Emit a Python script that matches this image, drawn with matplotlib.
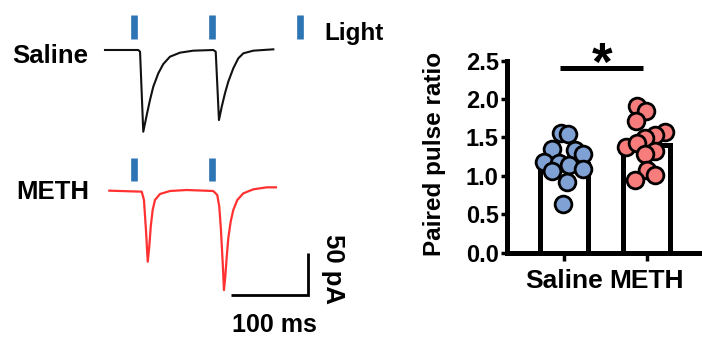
import matplotlib
matplotlib.use("Agg")
import matplotlib.pyplot as plt

plt.rcParams['font.family'] = ['Liberation Sans', 'DejaVu Sans']
plt.rcParams['font.weight'] = 'bold'

# ---------------- data ----------------
# example traces (time in ms, current in pA)
saline_t = [0, 43.2, 45.5, 49.7, 54.2, 58.4, 62.7, 69.2, 75.7, 84.4, 97.4, 114.7,
            140.6, 143.8, 148.0, 151.6, 155.8, 160.1, 166.6, 173.1, 179.6, 192.6, 218.6]
saline_i = [0, 0, -2, -98, -78, -60, -44, -28, -16.8, -8, -3.2, -0.8,
            0, -2, -84, -68, -52, -38, -22, -10, -4, -0.8, 0.8]

meth_t = [5.6, 47.7, 50.6, 53.2, 55.5, 57.5, 59.4, 61.9, 64.9, 71.4, 84.4, 106.1,
          140.6, 145.8, 148.4, 150.6, 152.9, 154.5, 156.2, 158.1, 160.1, 163.2,
          166.6, 171.8, 179.6, 192.6, 210.0, 222.0]
meth_i = [-0.8, -2, -12, -48, -86, -68, -44, -24, -12, -4.8, -1.2, 0,
          -1.2, -6, -20, -48, -88, -120, -104, -80, -58, -38,
          -24, -12, -4, 0.8, 3.2, 3.2]

light_times_saline = [38, 139.4]
light_legend_time = [253.6]
light_times_meth = [38, 139.4]

scale_ms = 100
scale_pa = 50

# paired pulse ratio
groups = ['Saline', 'METH']
bar_means = [1.15, 1.40]
saline_ppr = [1.555, 1.542, 1.346, 1.337, 1.281, 1.185, 1.164, 1.142, 1.064, 1.090, 0.917, 0.630]
saline_jit = [-0.04, 0.052, -0.149, 0.133, 0.234, -0.242, -0.057, 0.064, -0.149, 0.234, 0.04, -0.008]
meth_ppr = [1.914, 1.845, 1.715, 1.568, 1.533, 1.497, 1.380, 1.424, 1.324, 1.281, 1.077, 1.012, 0.947]
meth_jit = [-0.112, -0.006, -0.127, 0.224, 0.103, -0.018, -0.248, -0.119, 0.103, -0.018, 0.002, 0.103, -0.139]
yticks = [0.0, 0.5, 1.0, 1.5, 2.0, 2.5]

light_color = '#2e75b6'
blue = '#7fa1d3'
red = '#f77c7c'

W, H = 702, 338
fig = plt.figure(figsize=(W / 100, H / 100), dpi=100)

# ---------------- left: traces ----------------
px_ms = 0.77
px_pa = 0.834
x0 = 105  # px position of t=0

def trace_axes(top_px, bot_px, base_px):
    ax = fig.add_axes([0, 1 - bot_px / H, 400 / W, (bot_px - top_px) / H])
    ax.set_xlim(-x0 / px_ms, (400 - x0) / px_ms)
    ax.set_ylim(-(bot_px - base_px) / px_pa, (base_px - top_px) / px_pa)
    ax.axis('off')
    return ax

ax_s = trace_axes(0, 140, 50)
ax_m = trace_axes(140, 338, 190)

ax_s.plot(saline_t, saline_i, color='#111111', lw=1.5)
ax_s.vlines(light_times_saline + light_legend_time, 12.8, 42, color=light_color, lw=4.8)
ax_s.text(light_legend_time[0] + 31, 12.5, 'Light', fontsize=17.5, fontweight='bold',
          ha='left', va='baseline')

ax_m.plot(meth_t, meth_i, color='#ff1a1a', lw=1.6, alpha=0.9)
ax_m.vlines(light_times_meth, 11.2, 38, color=light_color, lw=4.8)

# scale bar
cx, cy = 263.6, -126
ax_m.plot([cx - scale_ms, cx, cx], [cy, cy, cy + scale_pa], color='black', lw=2,
          solid_joinstyle='miter', solid_capstyle='butt')
ax_m.text(cx - scale_ms / 2 + 7, cy - 36, f'{scale_ms} ms', fontsize=18, ha='center', va='center')
ax_m.text(cx + 32, cy + scale_pa / 2 + 6, f'{scale_pa} pA', fontsize=18.5, ha='center',
          va='center', rotation=270)

fig.text(50 / W, 1 - 56 / H, 'Saline', fontsize=18.5, ha='center', va='center')
fig.text(53 / W, 1 - 192 / H, 'METH', fontsize=18.5, ha='center', va='center')

# ---------------- right: bar chart ----------------
ax = fig.add_axes([507 / W, 1 - 252.7 / H, (699 - 507) / W, (252.7 - 60.7) / H])
xpos = [0, 1]
ax.bar(xpos, bar_means, width=0.576, facecolor='white', edgecolor='black', linewidth=3.6, zorder=2)
ax.scatter([xpos[0] + j for j in saline_jit], saline_ppr, s=145, facecolor=blue,
           edgecolor='black', linewidth=2, zorder=3, clip_on=False)
ax.scatter([xpos[1] + j for j in meth_jit], meth_ppr, s=145, facecolor=red,
           edgecolor='black', linewidth=2, zorder=3, clip_on=False)

ax.set_xlim(-0.691, 1.636)
ax.set_ylim(0, 2.5)
ax.set_yticks(yticks)
ax.set_yticklabels([f'{v:.1f}' for v in yticks], fontsize=17, fontweight='bold')
ax.set_xticks(xpos)
ax.set_xticklabels(groups, fontsize=19, fontweight='bold')
for s in ['top', 'right']:
    ax.spines[s].set_visible(False)
for s in ['left', 'bottom']:
    ax.spines[s].set_linewidth(3.6)
ax.tick_params(axis='y', length=4.5, width=2.5, pad=1.5)
ax.tick_params(axis='x', length=6, width=2.5, pad=6)
ax.patch.set_alpha(0)

# significance
ax.plot([-0.05, 0.958], [2.401, 2.401], color='black', lw=3.6, clip_on=False, solid_capstyle='butt')
ax.text(0.457, 2.249, '*', fontsize=38, ha='center', va='baseline', fontweight='bold')

fig.text(435 / W, 1 - 154 / H, 'Paired pulse ratio', fontsize=17.5, fontweight='bold',
         rotation=90, ha='center', va='center')

fig.savefig('out.png', dpi=100)
